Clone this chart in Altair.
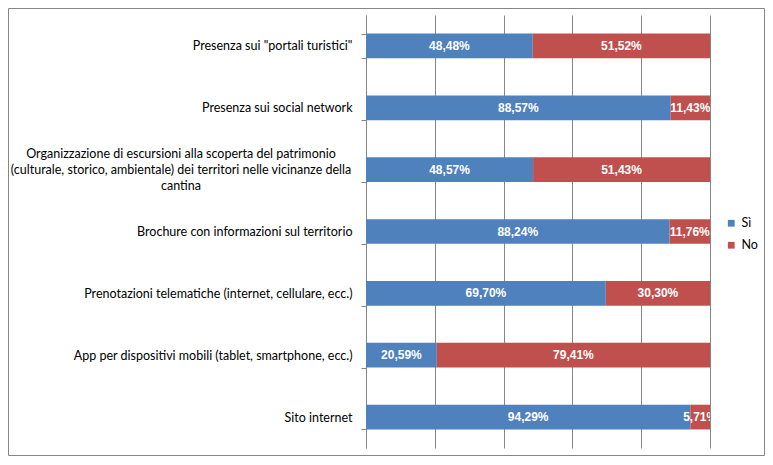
import altair as alt
import pandas as pd

categorie = [
    "Presenza sui \"portali turistici\"",
    "Presenza sui social network",
    "Organizzazione di escursioni",
    "Brochure con informazioni sul territorio",
    "Prenotazioni telematiche (internet, cellulare, ecc.)",
    "App per dispositivi mobili (tablet, smartphone, ecc.)",
    "Sito internet",
]
etichetta_lunga = [
    "Organizzazione di escursioni alla scoperta del patrimonio",
    "(culturale, storico, ambientale) dei territori nelle vicinanze della",
    "cantina",
]
si = [48.48, 88.57, 48.57, 88.24, 69.70, 20.59, 94.29]
no = [51.52, 11.43, 51.43, 11.76, 30.30, 79.41, 5.71]
serie = ["Sì", "No"]
colori = ["#4F81BD", "#C0504D"]

rows = []
for c, a, b in zip(categorie, si, no):
    for k, (s, v) in enumerate(zip(serie, [a, b])):
        rows.append({"categoria": c, "risposta": s, "ord": k, "valore": v,
                     "etichetta": f"{v:.2f}".replace(".", ",") + "%"})
df = pd.DataFrame(rows)

FONT = "Lato, sans-serif"
FS = 12.5
GRID = "#868686"

yscale = alt.Scale(domain=categorie, paddingInner=0.6, paddingOuter=0.3)
xscale = alt.Scale(domain=[0, 100], nice=False)

base = alt.Chart(df).transform_stack(
    stack="valore", as_=["x0", "x1"], groupby=["categoria"],
    sort=[alt.SortField("ord", order="ascending")]
).transform_calculate(mid="(datum.x0 + datum.x1) / 2")

bars = base.mark_bar().encode(
    y=alt.Y("categoria:N", scale=yscale, title=None,
            axis=alt.Axis(tickBand="extent", ticks=True, tickSize=5, tickColor=GRID,
                          tickWidth=1, domainColor=GRID, labelFont=FONT, labelFontSize=FS,
                          labelColor="#000000", labelLimit=400, labelPadding=9,
                          labelExpr="datum.value == 'Organizzazione di escursioni' ? '' : datum.value")),
    x=alt.X("x0:Q", scale=xscale, title=None,
            axis=alt.Axis(grid=True, gridColor=GRID, gridOpacity=1,
                          values=list(range(0, 101, 10)), labels=False, ticks=False,
                          domain=False)),
    x2="x1:Q",
    color=alt.Color("risposta:N", scale=alt.Scale(domain=serie, range=colori),
                    legend=alt.Legend(title=None, orient="none", legendX=359, legendY=202,
                                      symbolType="square", symbolSize=46, symbolStrokeWidth=0,
                                      labelFont=FONT, labelFontSize=FS, rowPadding=9,
                                      labelOffset=4, labelColor="#000000")),
)

labels = base.mark_text(color="white", fontWeight="bold", font="Liberation Sans, sans-serif",
                        fontSize=12, clip=True).encode(
    y=alt.Y("categoria:N", scale=yscale),
    x=alt.X("mid:Q", scale=xscale),
    text="etichetta:N",
)

long_df = pd.DataFrame({"categoria": [categorie[2]], "testo": [etichetta_lunga]})
long_label = alt.Chart(long_df).mark_text(
    font=FONT, fontSize=FS, align="center", baseline="middle", lineHeight=15.7,
    dy=-15.2, color="#000000"
).encode(
    y=alt.Y("categoria:N", scale=yscale),
    x=alt.value(-185),
    text="testo",
)

frame_df = pd.DataFrame({"f": [0]})
frame = alt.Chart(frame_df).mark_rect(fill=None, stroke="#868686", strokeWidth=1).encode(
    x=alt.value(-357.5), x2=alt.value(398.5), y=alt.value(-6.5), y2=alt.value(440.5)
)

chart = alt.layer(frame, bars, labels, long_label).properties(
    width=344, height=433,
    autosize=alt.AutoSizeParams(type="none"),
    padding={"left": 358, "top": 7, "right": 55, "bottom": 8},
).configure_view(stroke=None)

chart.save("out.html", embed_options={"renderer": "svg", "actions": False})
